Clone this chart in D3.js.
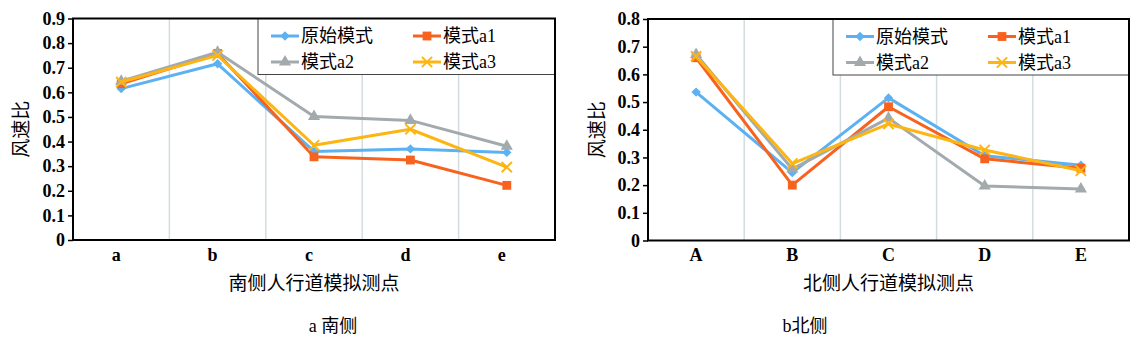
<!DOCTYPE html>
<meta charset="utf-8">
<html>
<head>
<title>风速比</title>
<style>
body { margin: 0; background: #fff; }
.cn { font-family: "Noto Sans CJK SC", sans-serif; fill: #000; }
.mix { font-family: "Liberation Serif", "Noto Sans CJK SC", serif; fill: #000; }
.grid { stroke: #d3dcdf; stroke-width: 1.5px; }
.series { fill: none; stroke-width: 3px; stroke-linejoin: round; }
</style>
</head>
<body>
<svg width="1138" height="347"></svg>
<script src="https://d3js.org/d3.v7.min.js"></script>
<script>

// series names and colours (legend order)
var seriesNames = ["原始模式", "模式a1", "模式a2", "模式a3"];
var seriesColors = ["#5cb1f2", "#f7621f", "#a2aaad", "#fdb514"];

// measuring points
var southPoints = ["a", "b", "c", "d", "e"];
var northPoints = ["A", "B", "C", "D", "E"];

// south side values
var southOrig = [0.615, 0.716, 0.36, 0.37, 0.356];
var southA1   = [0.635, 0.758, 0.338, 0.325, 0.222];
var southA2   = [0.645, 0.763, 0.502, 0.486, 0.381];
var southA3   = [0.642, 0.75, 0.385, 0.45, 0.296];

// north side values
var northOrig = [0.536, 0.245, 0.515, 0.306, 0.272];
var northA1   = [0.66, 0.2, 0.483, 0.295, 0.261];
var northA2   = [0.672, 0.258, 0.442, 0.197, 0.186];
var northA3   = [0.665, 0.278, 0.421, 0.327, 0.252];

var southTicks = [0, 0.1, 0.2, 0.3, 0.4, 0.5, 0.6, 0.7, 0.8, 0.9];
var northTicks = [0, 0.1, 0.2, 0.3, 0.4, 0.5, 0.6, 0.7, 0.8];

var symbols = [d3.symbolDiamond2, d3.symbolSquare, d3.symbolTriangle, d3.symbolX];
var symbolSizes = [56, 78, 64, 70];

var svg = d3.select("svg");

// serif tick labels like the original
function styleTicks(sel) {
  sel.selectAll(".tick text")
      .attr("font-family", "Liberation Serif, serif")
      .attr("font-size", "18px")
      .attr("font-weight", "bold")
      .attr("fill", "#000");
}

function drawChart(opt) {
  var x = d3.scaleBand()
      .domain(opt.points)
      .range([opt.left, opt.right]);

  var y = d3.scaleLinear()
      .domain([0, opt.ticks[opt.ticks.length - 1]])
      .range([opt.bottom, opt.top]);

  var g = svg.append("g");

  // vertical grid lines between the categories
  g.selectAll(".grid")
    .data(opt.points.slice(1))
    .enter().append("line")
      .attr("class", "grid")
      .attr("x1", function(d) { return x(d); })
      .attr("x2", function(d) { return x(d); })
      .attr("y1", opt.top)
      .attr("y2", opt.bottom);

  // y axis
  g.append("g")
      .attr("transform", "translate(" + opt.left + ",0)")
      .call(d3.axisLeft(y).tickValues(opt.ticks).tickSize(5).tickPadding(3)
        .tickFormat(function(d) { return d === 0 ? "0" : d3.format(".1f")(d); }))
    .call(function(a) { a.select(".domain").remove(); })
    .call(function(a) { a.selectAll(".tick line").attr("stroke", "#000").attr("stroke-width", 1.5); })
    .call(styleTicks);

  // x axis labels, no tick marks
  g.append("g")
      .attr("transform", "translate(0," + opt.bottom + ")")
      .call(d3.axisBottom(x).tickSize(0).tickPadding(8))
    .call(function(a) { a.select(".domain").remove(); })
    .call(styleTicks)
    .selectAll(".tick text").attr("dx", opt.labelShift);

  // lines + markers
  var line = d3.line()
      .x(function(d, i) { return x(opt.points[i]) + x.bandwidth() / 2; })
      .y(function(d) { return y(d); });

  opt.values.forEach(function(vals, k) {
    g.append("path")
        .datum(vals)
        .attr("class", "series")
        .attr("stroke", seriesColors[k])
        .attr("d", line);

    g.selectAll(".m" + k)
      .data(vals)
      .enter().append("path")
        .attr("class", "m" + k)
        .attr("transform", function(d, i) {
          return "translate(" + (x(opt.points[i]) + x.bandwidth() / 2) + "," + y(d) + ")";
        })
        .attr("d", d3.symbol().type(symbols[k]).size(symbolSizes[k]))
        .attr("fill", k === 3 ? "none" : seriesColors[k])
        .attr("stroke", k === 3 ? seriesColors[k] : "none")
        .attr("stroke-width", 2);
  });

  // legend box
  var lx = opt.left + opt.legendOffset;
  var leg = g.append("g");
  leg.append("rect")
      .attr("x", lx)
      .attr("y", opt.top)
      .attr("width", opt.right - lx)
      .attr("height", 56)
      .attr("fill", "#fff")
      .attr("stroke", "#444")
      .attr("stroke-width", 1);

  seriesNames.forEach(function(name, k) {
    var cx = lx + (k % 2 === 0 ? 13 : 155);
    var cy = opt.top + (k < 2 ? 17.5 : 43.5);
    var item = leg.append("g");
    item.append("line")
        .attr("x1", cx).attr("x2", cx + 28)
        .attr("y1", cy).attr("y2", cy)
        .attr("stroke", seriesColors[k])
        .attr("stroke-width", 3);
    item.append("path")
        .attr("transform", "translate(" + (cx + 14) + "," + cy + ")")
        .attr("d", d3.symbol().type(symbols[k]).size(symbolSizes[k]))
        .attr("fill", k === 3 ? "none" : seriesColors[k])
        .attr("stroke", k === 3 ? seriesColors[k] : "none")
        .attr("stroke-width", 2);
    item.append("text")
        .attr("class", "mix")
        .attr("x", cx + 30)
        .attr("y", cy + 6)
        .attr("font-size", "18px")
        .text(name);
  });

  // plot frame
  g.append("rect")
      .attr("x", opt.left)
      .attr("y", opt.top)
      .attr("width", opt.right - opt.left)
      .attr("height", opt.bottom - opt.top)
      .attr("fill", "none")
      .attr("stroke", "#000")
      .attr("stroke-width", 2);

  // axis titles
  g.append("text")
      .attr("class", "cn")
      .attr("transform", "translate(" + opt.yTitleX + "," + ((opt.top + opt.bottom) / 2) + ") rotate(-90)")
      .attr("text-anchor", "middle")
      .attr("dy", "0.35em")
      .attr("font-size", "19px")
      .text("风速比");

  g.append("text")
      .attr("class", "cn")
      .attr("x", (opt.left + opt.right) / 2)
      .attr("y", 290)
      .attr("text-anchor", "middle")
      .attr("font-size", "19px")
      .text(opt.xTitle);

  g.append("text")
      .attr("class", "mix")
      .attr("x", opt.captionX)
      .attr("y", 332)
      .attr("text-anchor", "middle")
      .attr("font-size", "18px")
      .attr("fill", "#333")
      .text(opt.caption);
}

drawChart({
  left: 73, right: 555, top: 18.5, bottom: 240,
  points: southPoints, ticks: southTicks,
  values: [southOrig, southA1, southA2, southA3],
  legendOffset: 185, labelShift: -5, yTitleX: 21,
  xTitle: "南侧人行道模拟测点", caption: "a 南侧", captionX: 333
});

drawChart({
  left: 648, right: 1129, top: 19, bottom: 240.5,
  points: northPoints, ticks: northTicks,
  values: [northOrig, northA1, northA2, northA3],
  legendOffset: 185, labelShift: 0, yTitleX: 597,
  xTitle: "北侧人行道模拟测点", caption: "b北侧", captionX: 805
});

</script>
</body>
</html>
